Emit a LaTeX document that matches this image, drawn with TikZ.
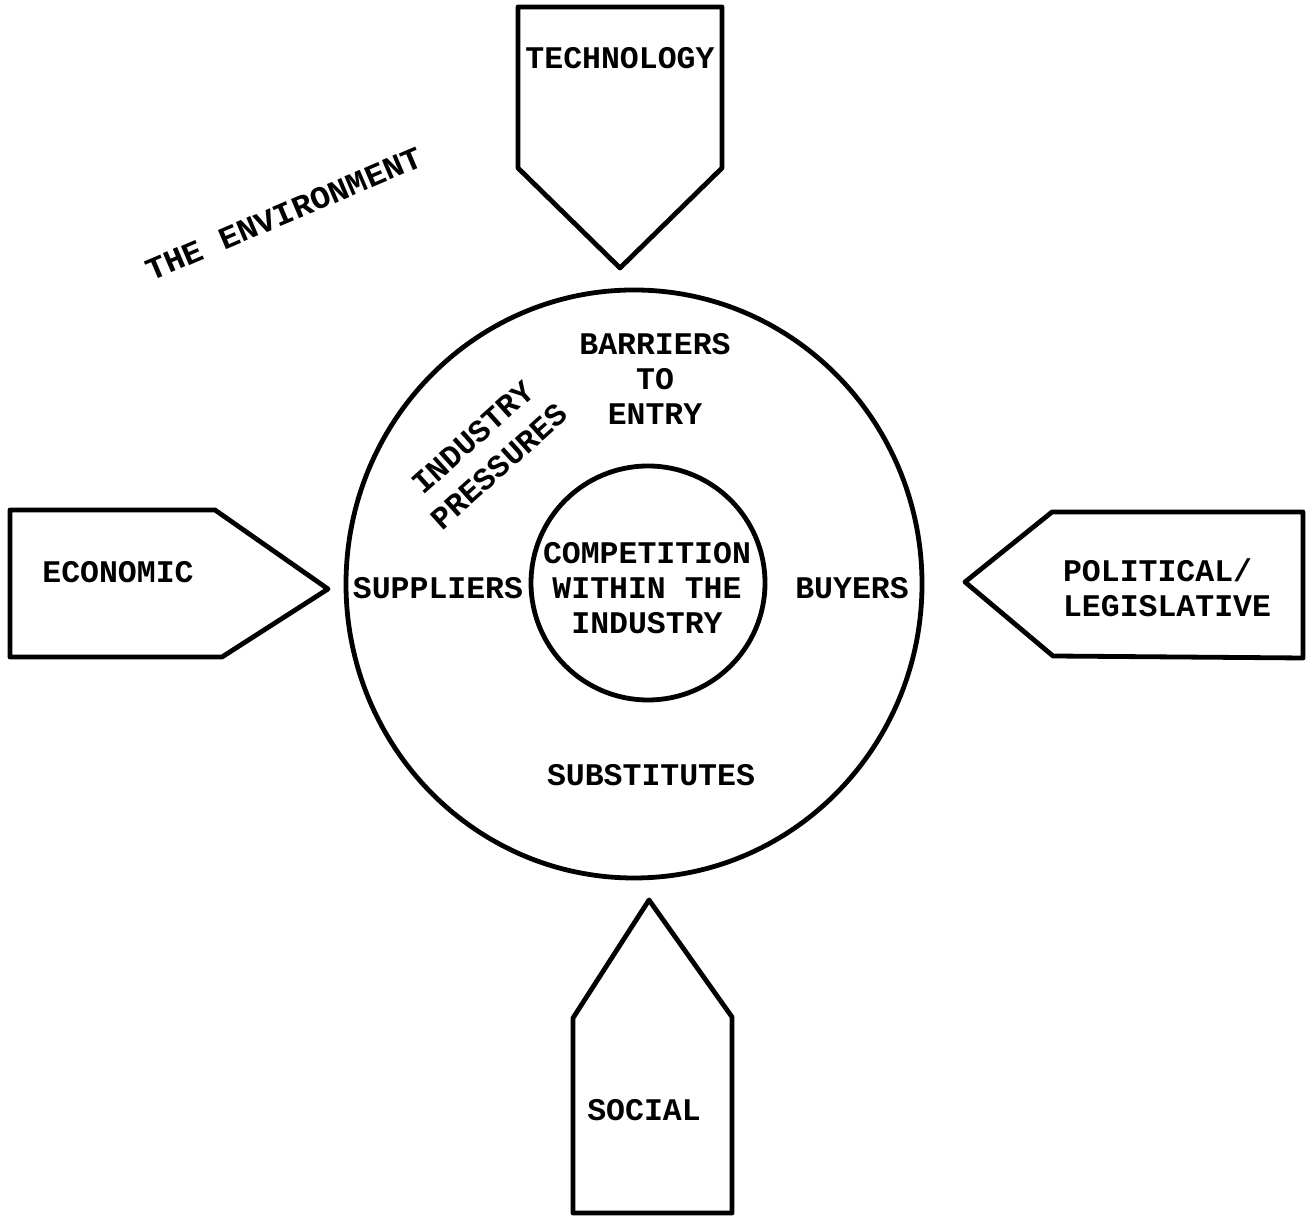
\documentclass[tikz,border=0pt]{standalone}
\usepackage{fontspec}
\setmonofont{Liberation Mono}
\begin{document}
\begin{tikzpicture}[x=0.5pt,y=0.5pt,line join=round,line cap=round,
		every node/.style={font=\ttfamily\bfseries\fontsize{15.75}{17.5}\selectfont,align=center,inner sep=0pt},
		frame/.style={line width=2.4pt},
		declare function={xO = 634; yO = 640; aO = 288; bO = 294; xI = 648; yI = 641; rI = 117;}]
	\useasboundingbox (0,0) rectangle (1309,1224);
	%% Vòng ngoài: áp lực ngành
	\draw[frame] (xO,yO) ellipse (aO and bO);
	%% Vòng trong: cạnh tranh
	\draw[frame] (xI,yI) circle (rI);
	%% Bốn mũi tên môi trường
	\draw[frame] (518,1217) -- (722,1217) -- (722,1056) -- (620,956) -- (518,1056) -- cycle;
	\draw[frame] (10,714) -- (215,714) -- (328,635) -- (222,567) -- (10,567) -- cycle;
	\draw[frame] (965,642) -- (1052,712) -- (1303,712) -- (1303,566) -- (1053,568) -- cycle;
	\draw[frame] (649,324) -- (732,207) -- (732,11) -- (573,11) -- (573,206) -- cycle;
	%% Nhãn trong mũi tên
	\node (tech) at (620,1166) {TECHNOLOGY};
	\node (econ) at (118,652) {ECONOMIC};
	\node[align=left] (pol) at (1167,636) {POLITICAL/\\LEGISLATIVE};
	\node (soc) at (644,114) {SOCIAL};
	%% Nhãn xoay
	\node[rotate=23,xscale=1.05] (env) at (284,1010) {THE ENVIRONMENT};
	\node[rotate=42] (press) at (486,772) {INDUSTRY\\[2pt]PRESSURES};
	%% Nhãn trong vòng
	\node (entry) at (655,845) {BARRIERS\\TO\\ENTRY};
	\node (supp) at (438,636) {SUPPLIERS};
	\node (buy) at (852,636) {BUYERS};
	\node (comp) at (647,636) {COMPETITION\\WITHIN THE\\INDUSTRY};
	\node (subs) at (651,449) {SUBSTITUTES};
\end{tikzpicture}
\end{document}
